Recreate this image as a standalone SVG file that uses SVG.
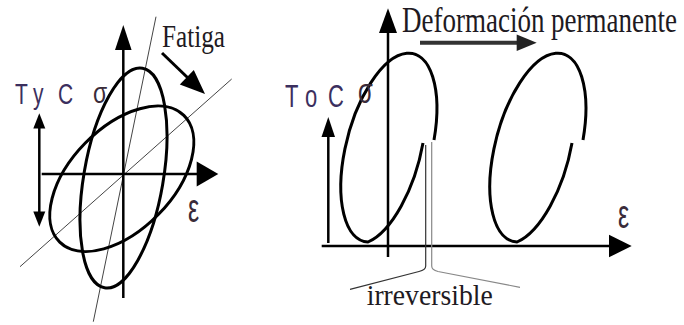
<svg xmlns="http://www.w3.org/2000/svg" width="684" height="325" viewBox="0 0 684 325">
  <style>
    .axis { stroke: #000; stroke-width: 2.5; fill: none; }
    .head { fill: #000; stroke: none; }
    .curve { stroke: #000; stroke-width: 3; fill: none; }
    .thin { stroke: #444; stroke-width: 1; fill: none; }
    .serif { font-family: "Liberation Serif", "Times New Roman", serif; fill: #1e1a22; }
    .sans { font-family: "Liberation Sans", Arial, sans-serif; fill: #3b2f5e; }
    .greek { font-family: "Liberation Sans", Arial, sans-serif; fill: #3a2c3a; }
  </style>
  <defs>
    <!-- open loop: upper arc and shifted lower arc that does not close -->
    <path id="loop" d="M583,140 A42.5,97 14.85 1 0 517,242 A42.5,97 14.85 0 0 572,143"/>
  </defs>

  <!-- Left panel: hysteresis loops under fatigue -->
  <g id="left-panel">
    <g id="left-guides">
      <line class="thin" x1="20" y1="266.7" x2="231.7" y2="79"/>
      <line class="thin" x1="93.3" y1="321.7" x2="156" y2="16.7"/>
    </g>
    <g id="left-axes">
      <line class="axis" x1="123.3" y1="298" x2="123.3" y2="48"/>
      <polygon class="head" points="123.3,25 115,50 131.6,50"/>
      <line class="axis" x1="41.7" y1="174" x2="198" y2="174"/>
      <polygon class="head" points="218.3,174 196.7,161.5 196.7,186.5"/>
    </g>
    <g id="left-loops">
      <ellipse class="curve" cx="123.5" cy="178" rx="39.7" ry="111.4" transform="rotate(9.8 123.5 178)"/>
      <ellipse class="curve" cx="121.8" cy="178.8" rx="88.7" ry="51.1" transform="rotate(-45.6 121.8 178.8)"/>
    </g>
    <g id="tension-compression">
      <line class="axis" x1="39.3" y1="126" x2="39.3" y2="214"/>
      <polygon class="head" points="39.3,113.3 33.3,128.5 45.3,128.5"/>
      <polygon class="head" points="39.3,226.7 33.3,211.5 45.3,211.5"/>
    </g>
    <g id="fatiga-arrow">
      <line x1="162" y1="53" x2="188" y2="78" stroke="#000" stroke-width="3"/>
      <polygon class="head" points="205,94 179.8,84.4 193.8,70"/>
    </g>
    <text class="sans" font-size="21" transform="translate(0,104) scale(1,1.4)" x="15 27.8 33 45 58">T y C</text>
    <text class="greek" font-size="23" transform="translate(93,103) scale(1,1.3)">σ</text>
    <text class="serif" font-size="25" transform="translate(162,47) scale(1,1.3)" textLength="63" lengthAdjust="spacingAndGlyphs">Fatiga</text>
    <text class="greek" font-size="25" transform="translate(188,221.7) scale(1,1.65)">ε</text>
  </g>

  <!-- Right panel: permanent deformation -->
  <g id="right-panel">
    <g id="right-axes">
      <line class="axis" x1="388" y1="257" x2="388" y2="31" stroke-width="2"/>
      <polygon class="head" points="388,8.3 379,33 397,33"/>
      <line class="axis" x1="321.7" y1="246" x2="611" y2="246"/>
      <polygon class="head" points="631.7,246 609,234.7 609,257.3"/>
      <line class="axis" x1="328.3" y1="243" x2="328.3" y2="134"/>
      <polygon class="head" points="328.3,117 321.5,137 335,137"/>
    </g>
    <g id="right-loops">
      <use href="#loop" class="curve" transform="translate(-149,0)"/>
      <use href="#loop" class="curve"/>
    </g>
    <g id="deformacion-arrow">
      <line x1="420" y1="42.7" x2="518" y2="42.7" stroke="#333" stroke-width="4"/>
      <polygon points="536.7,42.7 516.7,34.4 516.7,51" fill="#222"/>
    </g>
    <g id="irreversible-brace">
      <path d="M425.7,145 V266 Q425.7,270 419,271.5 L350,289.3" stroke="#333" stroke-width="1.2" fill="none"/>
      <path d="M431.7,142 V266 Q431.7,270 438,271.5 L520,287.3" stroke="#888" stroke-width="1.2" fill="none"/>
    </g>
    <text class="sans" font-size="22" transform="translate(0,107) scale(1,1.45)" x="285 298.4 305 317.2 328">T o C</text>
    <text class="greek" font-size="24" transform="translate(358,103) scale(1,1.5)">σ</text>
    <text class="serif" font-size="26" transform="translate(402,32) scale(1,1.36)" textLength="275" lengthAdjust="spacingAndGlyphs">Deformación permanente</text>
    <text class="greek" font-size="25" transform="translate(618,228.3) scale(1,1.65)">ε</text>
    <text class="serif" font-size="27.5" transform="translate(366.7,305) scale(1,1.05)" textLength="126" lengthAdjust="spacingAndGlyphs">irreversible</text>
  </g>
</svg>
